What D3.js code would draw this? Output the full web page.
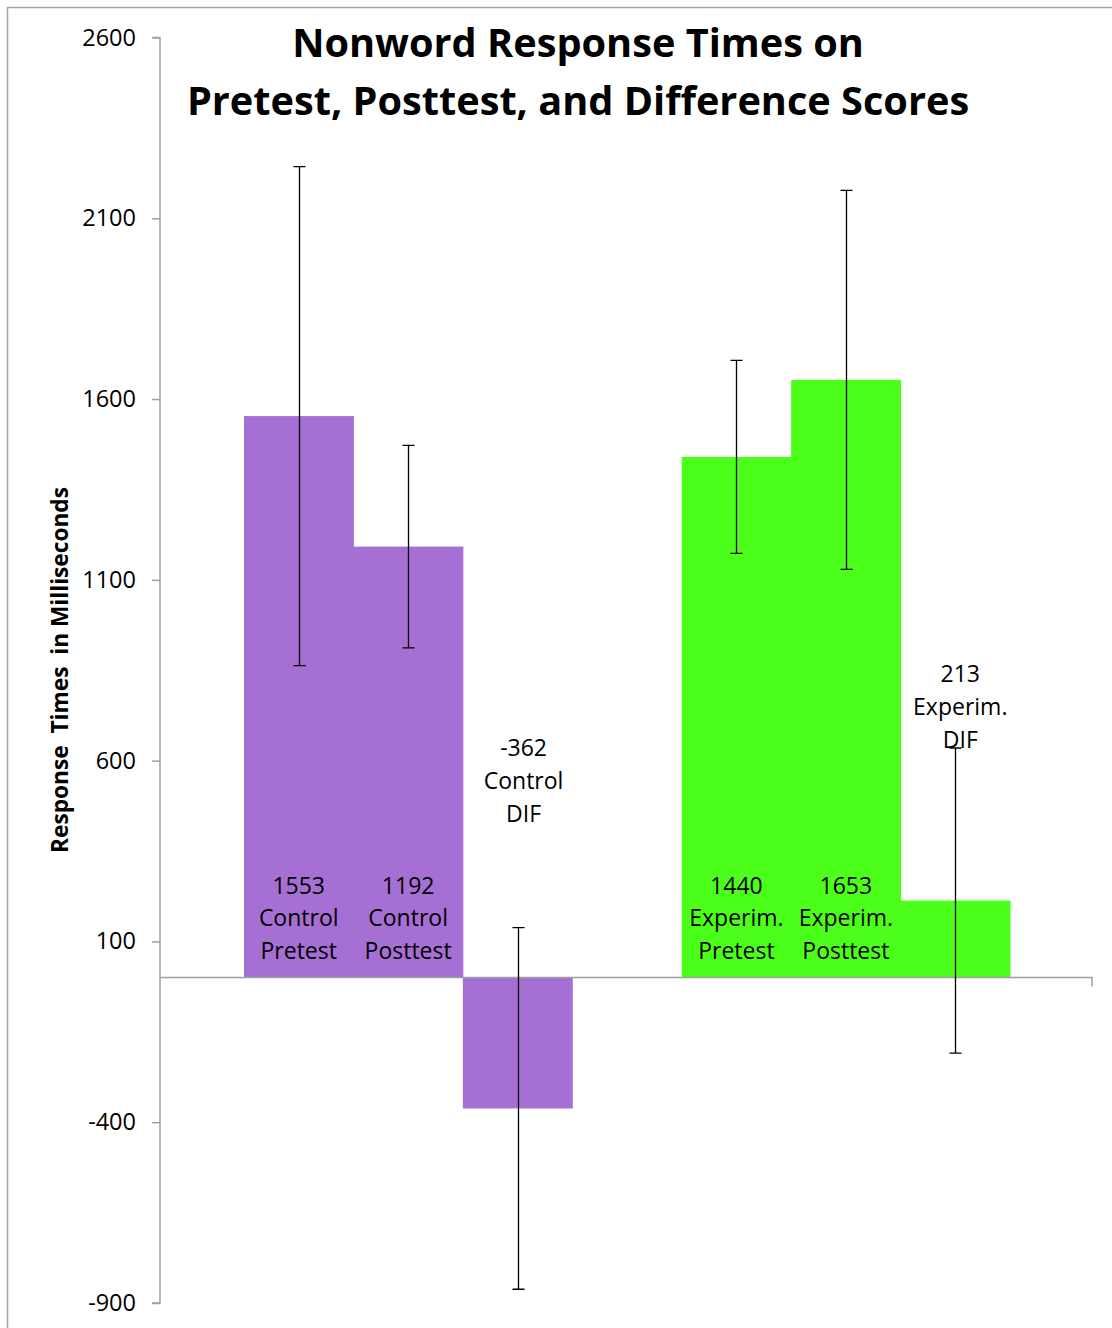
<!DOCTYPE html>
<html><head><meta charset="utf-8">
<script src="https://cdn.jsdelivr.net/npm/d3@7"></script>
<style>
html,body{margin:0;padding:0;background:#fff;}
text{font-family:"Open Sans",sans-serif;}
</style></head>
<body><svg id="c" width="1112" height="1328"></svg>
<script>
const categories = ["Control Pretest","Control Posttest","Control DIF","","Experim. Pretest","Experim. Posttest","Experim. DIF"];
const groups = ["control","control","control","","experim","experim","experim"];
const values = [1553, 1192, -362, null, 1440, 1653, 213];
const errors = [690, 280, 500, null, 267, 524, 422];
const labelLines = [["1553","Control","Pretest"],["1192","Control","Posttest"],["-362","Control","DIF"],null,["1440","Experim.","Pretest"],["1653","Experim.","Posttest"],["213","Experim.","DIF"]];
const yTicks = [-900,-400,100,600,1100,1600,2100,2600];
const titleLines = ["Nonword Response Times on","Pretest, Posttest, and Difference Scores"];
const yTitle = "Response  Times  in Milliseconds";

const svg = d3.select("#c");
const colors = {control:"#a66fd3", experim:"#4cff1a"};

// outer chart border
svg.append("rect").attr("x",7.5).attr("y",7.5).attr("width",1112).attr("height",1328)
  .attr("fill","none").attr("stroke","#a6a6a6").attr("stroke-width",1.5);

const y = d3.scaleLinear().domain([-900,2600]).range([1303,37.5]);
const x = d3.scaleBand().domain(categories.map((c,i)=>i)).range([244,1010]).padding(0);

const idx = d3.range(categories.length).filter(i=>values[i]!==null);

// bars
svg.append("g").selectAll("rect").data(idx).join("rect")
  .attr("x",i=>x(i)).attr("width",x.bandwidth()+0.5)
  .attr("y",i=>y(Math.max(0,values[i]))).attr("height",i=>Math.abs(y(values[i])-y(0)))
  .attr("fill",i=>colors[groups[i]]);

// y axis
const yAxis = d3.axisLeft(y).tickValues(yTicks).tickSize(8).tickPadding(16).tickFormat(d=>String(d));
const ga = svg.append("g").attr("transform","translate(160,0)").call(yAxis);
ga.select(".domain").attr("stroke","#a0a0a0").attr("stroke-width",1.5).attr("d","M-8,37.5H0V1303H-8");
ga.selectAll(".tick line").attr("stroke","#a0a0a0").attr("stroke-width",1.5);
ga.selectAll(".tick text").attr("font-size",23.5).attr("fill","#000").attr("font-family","'Open Sans',sans-serif");

// x axis line at zero
svg.append("path").attr("d",`M160,${y(0)}H1092V${y(0)+9}`)
  .attr("fill","none").attr("stroke","#a0a0a0").attr("stroke-width",1.5);

// error bars
const eb = svg.append("g").attr("stroke","#000").attr("stroke-width",1.3).attr("fill","none");
idx.forEach(i=>{
  const cx = Math.round(x(i)+x.bandwidth()/2)+0.5;
  const t = y(values[i]+errors[i]), b = y(values[i]-errors[i]);
  eb.append("path").attr("d",`M${cx},${t}V${b}M${cx-6},${t}H${cx+6}M${cx-6},${b}H${cx+6}`);
});

// data labels
const lab = svg.append("g").attr("font-size",23).attr("fill","#000").attr("text-anchor","middle");
idx.forEach(i=>{
  let cx = x(i)+x.bandwidth()/2, top;
  if (i===2) { cx += 6; top = y(634); }
  else if (i===6) { cx += 5; top = y(839); }
  else { top = y(0) - 92; }
  labelLines[i].forEach((s,k)=>{
    lab.append("text").attr("x",cx).attr("y",top + k*32.7).attr("dy","0.35em").text(s);
  });
});

// title
svg.append("g").selectAll("text").data(titleLines).join("text")
  .attr("x",578).attr("y",(d,k)=>43+k*58).attr("dy","0.35em")
  .attr("text-anchor","middle").attr("font-size",39.7).attr("font-weight","bold").attr("fill","#000")
  .text(d=>d);

// y title
svg.append("text").attr("transform","translate(60,670) rotate(-90)")
  .attr("dy","0.35em").attr("text-anchor","middle").attr("font-size",22.7).attr("font-weight","bold")
  .attr("fill","#000").style("white-space","pre").text(yTitle);
</script></body></html>
